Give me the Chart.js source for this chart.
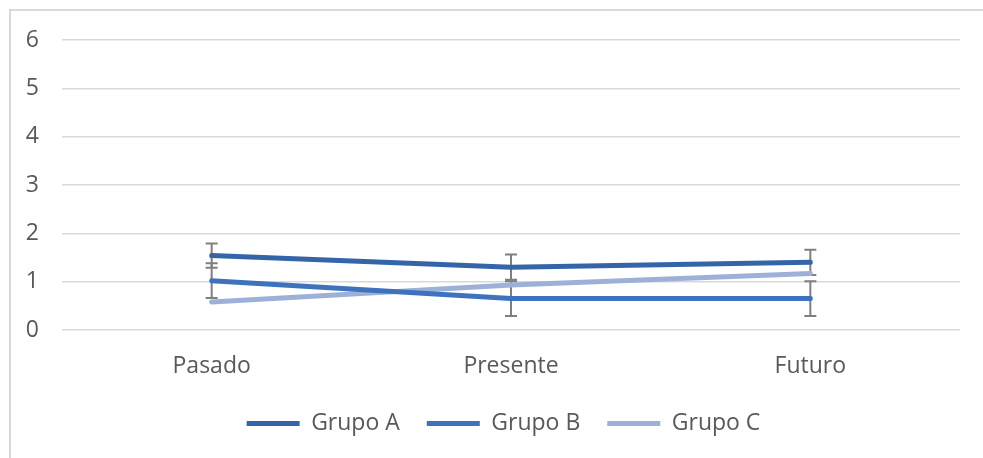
<!DOCTYPE html>
<html>
<head>
<meta charset="utf-8">
<script src="https://cdn.jsdelivr.net/npm/chart.js@4/dist/chart.umd.min.js"></script>
<style>
  html, body { margin: 0; padding: 0; background: #fff; overflow: hidden; }
  #frame { position: absolute; left: 9px; top: 9px; width: 990px; height: 470px;
           border-left: 2px solid #d9d9d9; border-top: 2px solid #d9d9d9; }
  #wrap { position: absolute; left: 0; top: 0; width: 983px; height: 458px; }
</style>
</head>
<body>
<div id="frame"></div>
<div id="wrap"><canvas id="chart" width="983" height="458"></canvas></div>
<script>
// ---------- data ----------
const categories = ['Pasado', 'Presente', 'Futuro'];
const grupoA = [1.54, 1.30, 1.40];
const grupoB = [1.02, 0.65, 0.65];
const grupoC = [0.58, 0.93, 1.17];
const errorA = [0.25, 0.26, 0.26];
const errorB = [0.36, 0.36, 0.36];
const yTicks = [0, 1, 2, 3, 4, 5, 6];

const textColor = '#595959';
const fontFamily = "'Open Sans', 'Noto Sans', sans-serif";
const fontSize = 23;

// ---------- error bars plugin ----------
const errorBars = {
  id: 'errorBars',
  beforeDatasetsDraw(chart) {
    const { ctx, scales: { x, y } } = chart;
    ctx.save();
    ctx.strokeStyle = '#7f7f7f';
    ctx.lineWidth = 2;
    chart.data.datasets.forEach(ds => {
      if (!ds.errors) return;
      ds.data.forEach((v, i) => {
        const px = x.getPixelForValue(i);
        const top = y.getPixelForValue(v + ds.errors[i]);
        const bot = y.getPixelForValue(v - ds.errors[i]);
        ctx.beginPath();
        ctx.moveTo(px, top); ctx.lineTo(px, bot);
        ctx.moveTo(px - 6, top); ctx.lineTo(px + 6, top);
        ctx.moveTo(px - 6, bot); ctx.lineTo(px + 6, bot);
        ctx.stroke();
      });
    });
    ctx.restore();
  }
};

const line = (label, data, color, errors) => ({
  label, data, errors,
  borderColor: color,
  backgroundColor: color,
  borderWidth: 5,
  borderCapStyle: 'round',
  borderJoinStyle: 'round',
  pointRadius: 0,
  pointStyle: 'line',
  tension: 0
});

new Chart(document.getElementById('chart').getContext('2d'), {
  type: 'line',
  data: {
    labels: categories,
    datasets: [
      line('Grupo A', grupoA, '#3465a9', errorA),
      line('Grupo B', grupoB, '#3e72bd', errorB),
      line('Grupo C', grupoC, '#9db1d8', null)
    ]
  },
  plugins: [errorBars],
  options: {
    responsive: false,
    devicePixelRatio: 1,
    animation: false,
    layout: { padding: { left: 24, right: 0, top: 40, bottom: 13 } },
    plugins: {
      tooltip: { enabled: false },
      legend: {
        position: 'bottom',
        labels: {
          usePointStyle: true,
          pointStyleWidth: 53,
          padding: 27,
          color: textColor,
          font: { family: fontFamily, size: fontSize }
        }
      }
    },
    scales: {
      x: {
        offset: true,
        grid: { display: false, drawTicks: false },
        border: { display: false },
        ticks: { color: textColor, padding: 23, font: { family: fontFamily, size: fontSize } },
        afterFit(scale) { scale.height = 55; }
      },
      y: {
        min: 0,
        max: 6,
        afterBuildTicks(scale) { scale.ticks = yTicks.map(v => ({ value: v })); },
        grid: { color: '#d9d9d9', lineWidth: 1.5, drawTicks: false },
        border: { display: false },
        ticks: { color: textColor, padding: 23, font: { family: fontFamily, size: fontSize } },
        afterFit(scale) { scale.width = 38; }
      },
      // empty right-hand space, keeps the plot ending where the reference does
      spacer: {
        type: 'linear',
        position: 'right',
        grid: { display: false, drawTicks: false },
        border: { display: false },
        ticks: { display: false },
        afterFit(scale) { scale.width = 23; }
      }
    }
  }
});
</script>
</body>
</html>
